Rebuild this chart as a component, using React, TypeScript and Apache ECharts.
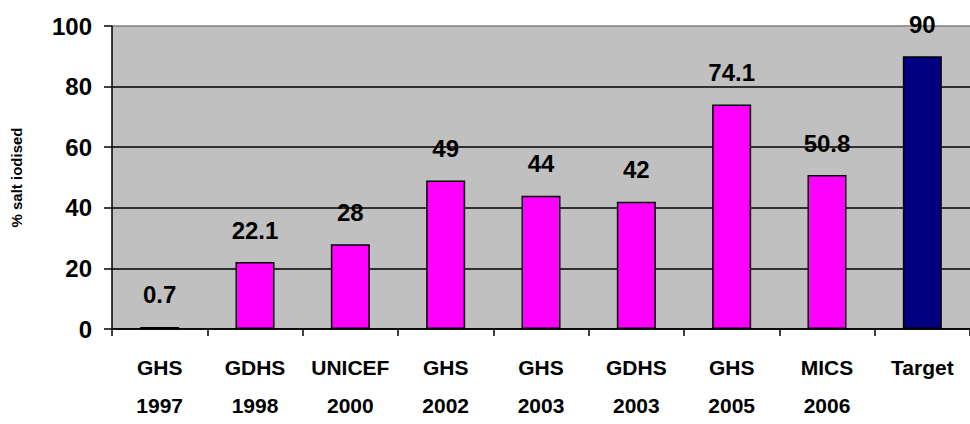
import React, { useEffect, useRef } from "react";
import * as echarts from "echarts";

const categories = ["GHS\n1997", "GDHS\n1998", "UNICEF\n2000", "GHS\n2002", "GHS\n2003", "GDHS\n2003", "GHS\n2005", "MICS\n2006", "Target"];
const values = [0.7, 22.1, 28, 49, 44, 42, 74.1, 50.8, 90];
const barColors = ["#FF00FF", "#FF00FF", "#FF00FF", "#FF00FF", "#FF00FF", "#FF00FF", "#FF00FF", "#FF00FF", "#000080"];
const yAxisTitle = "% salt iodised";

const FONT = "'Liberation Sans', Arial, sans-serif";

export default function App() {
  const ref = useRef<HTMLDivElement>(null);
  useEffect(() => {
    if (!ref.current) return;
    const chart = echarts.init(ref.current, null, { renderer: "svg" });
    chart.setOption({
      animation: false,
      backgroundColor: "#FFFFFF",
      grid: {
        left: 112,
        top: 26,
        width: 859,
        height: 307,
        show: true,
        backgroundColor: "#C0C0C0",
        borderWidth: 0,
      },
      xAxis: {
        type: "category",
        data: categories,
        axisLine: { show: true, lineStyle: { color: "#000", width: 1.5 } },
        axisTick: { show: true, length: 7, lineStyle: { color: "#000", width: 1.5 } },
        axisLabel: {
          interval: 0,
          margin: 19,
          color: "#000",
          fontFamily: FONT,
          fontWeight: "bold",
          fontSize: 21,
          lineHeight: 38,
        },
      },
      yAxis: {
        type: "value",
        min: 0,
        max: 100,
        interval: 20,
        name: yAxisTitle,
        nameLocation: "middle",
        nameGap: 88,
        nameRotate: 90,
        nameTextStyle: { color: "#000", fontFamily: FONT, fontWeight: "bold", fontSize: 15 },
        axisLine: { show: true, lineStyle: { color: "#000", width: 1.5 } },
        axisTick: { show: true, length: 8, lineStyle: { color: "#000", width: 1.5 } },
        axisLabel: {
          margin: 20,
          color: "#000",
          fontFamily: FONT,
          fontWeight: "bold",
          fontSize: 24,
        },
        splitLine: {
          show: true,
          lineStyle: { color: ["#000", "#000", "#000", "#000", "#000", "#808080"], width: 1.5 },
        },
      },
      series: [
        {
          type: "bar",
          barWidth: 39,
          data: values.map((v, i) => ({
            value: v,
            itemStyle: { color: barColors[i], borderColor: "#000", borderWidth: 1.5 },
          })),
          label: {
            show: true,
            position: "top",
            distance: 20,
            color: "#000",
            fontFamily: FONT,
            fontWeight: "bold",
            fontSize: 24,
          },
        },
      ],
    });
    return () => chart.dispose();
  }, []);
  return <div ref={ref} style={{ position: "fixed", left: 0, top: 0, width: 970, height: 424 }} />;
}
